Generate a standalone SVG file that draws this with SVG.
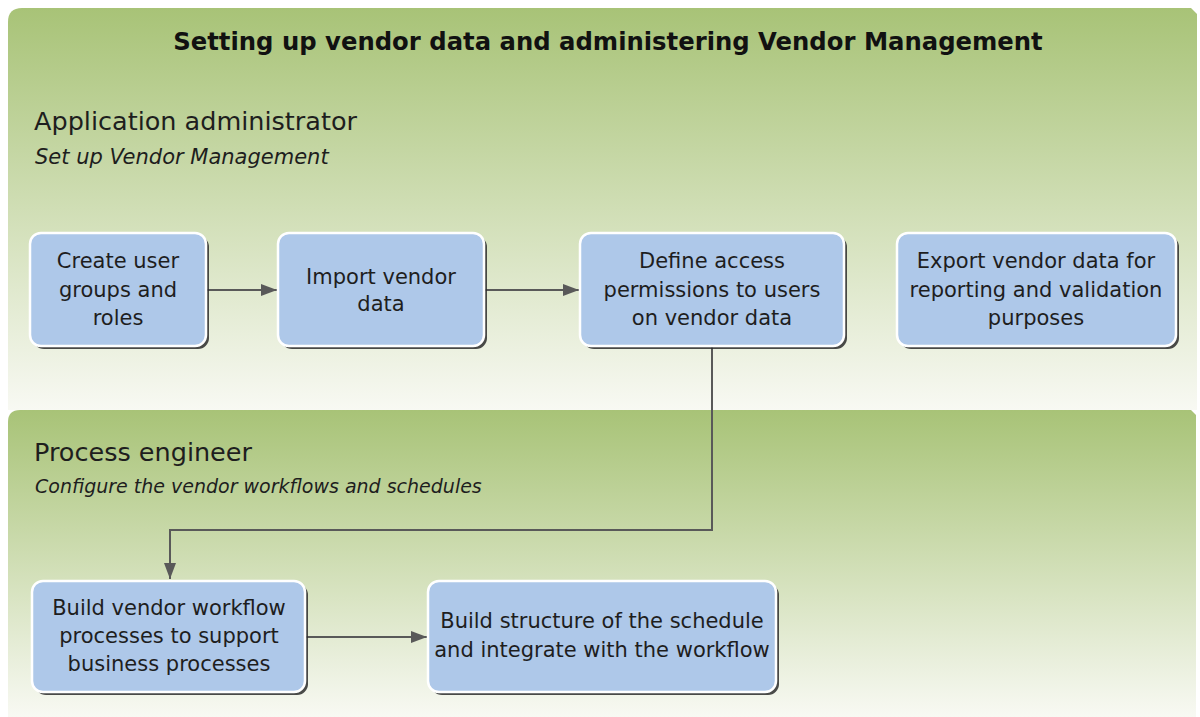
<svg xmlns="http://www.w3.org/2000/svg" width="1200" height="717" viewBox="0 0 1200 717">
<defs>
<linearGradient id="lane" x1="0" y1="0" x2="0" y2="1">
<stop offset="0" stop-color="#a8c377"/>
<stop offset="1" stop-color="#f8f9f3"/>
</linearGradient>
<marker id="arr" viewBox="0 0 16 12" refX="16" refY="6" markerWidth="16" markerHeight="12" markerUnits="userSpaceOnUse" orient="auto">
<path d="M0,0 L16,6 L0,12 Z" fill="#595959"/>
</marker>
</defs>
<style>
.shadow{fill:#2b2b2b;opacity:0.85}
.box{fill:#aec8e9;stroke:#ffffff;stroke-width:2.5}
.t{font-family:"DejaVu Sans",sans-serif;font-size:21px;fill:#1e1e1e;text-anchor:middle}
.lane{font-family:"DejaVu Sans",sans-serif;font-size:25.5px;fill:#1e1e1e}
.sub{font-family:"DejaVu Sans",sans-serif;font-size:19px;font-style:italic;fill:#1e1e1e}
.title{font-family:"DejaVu Sans",sans-serif;font-size:24.3px;font-weight:bold;fill:#111;text-anchor:middle}
.c{fill:none;stroke:#595959;stroke-width:2}
</style>
<rect width="1200" height="717" fill="#ffffff"/>
<g id="lane-admin">
<path d="M8,22 Q8,8 22,8 L1191,8 L1197,14 L1197,410 L8,410 Z" fill="url(#lane)"/>
<text class="title" x="608" y="50">Setting up vendor data and administering Vendor Management</text>
<text class="lane" x="34" y="130">Application administrator</text>
<text class="sub" x="35" y="164" style="font-size:21px">Set up Vendor Management</text>
</g>
<g id="lane-engineer">
<path d="M8,422 Q8,410 20,410 L1191,410 L1196,415 L1196,717 L8,717 Z" fill="url(#lane)"/>
<text class="lane" x="34" y="461">Process engineer</text>
<text class="sub" x="35" y="493">Configure the vendor workflows and schedules</text>
</g>
<g id="connectors">
<line class="c" x1="206" y1="290" x2="277" y2="290" marker-end="url(#arr)"/>
<line class="c" x1="484" y1="290" x2="579" y2="290" marker-end="url(#arr)"/>
<polyline class="c" points="712,346 712,530 170,530 170,579" marker-end="url(#arr)"/>
<line class="c" x1="305" y1="637" x2="427" y2="637" marker-end="url(#arr)"/>
</g>
<g id="n1">
<rect class="shadow" x="33" y="236" width="176" height="113" rx="11"/>
<rect class="box" x="30" y="233" width="176" height="113" rx="11"/>
<text class="t" x="118" y="268">Create user</text>
<text class="t" x="118" y="297">groups and</text>
<text class="t" x="118" y="325">roles</text>
</g>
<g id="n2">
<rect class="shadow" x="281" y="236" width="206" height="113" rx="11"/>
<rect class="box" x="278" y="233" width="206" height="113" rx="11"/>
<text class="t" x="381" y="284">Import vendor</text>
<text class="t" x="381" y="311">data</text>
</g>
<g id="n3">
<rect class="shadow" x="583" y="236" width="264" height="113" rx="11"/>
<rect class="box" x="580" y="233" width="264" height="113" rx="11"/>
<text class="t" x="712" y="268">Define access</text>
<text class="t" x="712" y="297">permissions to users</text>
<text class="t" x="712" y="325">on vendor data</text>
</g>
<g id="n4">
<rect class="shadow" x="900" y="236" width="279" height="113" rx="11"/>
<rect class="box" x="897" y="233" width="279" height="113" rx="11"/>
<text class="t" x="1036" y="268">Export vendor data for</text>
<text class="t" x="1036" y="297">reporting and validation</text>
<text class="t" x="1036" y="325">purposes</text>
</g>
<g id="n5">
<rect class="shadow" x="35" y="584" width="273" height="111" rx="11"/>
<rect class="box" x="32" y="581" width="273" height="111" rx="11"/>
<text class="t" x="169" y="615">Build vendor workflow</text>
<text class="t" x="169" y="643">processes to support</text>
<text class="t" x="169" y="671">business processes</text>
</g>
<g id="n6">
<rect class="shadow" x="431" y="584" width="348" height="111" rx="11"/>
<rect class="box" x="428" y="581" width="348" height="111" rx="11"/>
<text class="t" x="602" y="628">Build structure of the schedule</text>
<text class="t" x="602" y="657">and integrate with the workflow</text>
</g>
</svg>
